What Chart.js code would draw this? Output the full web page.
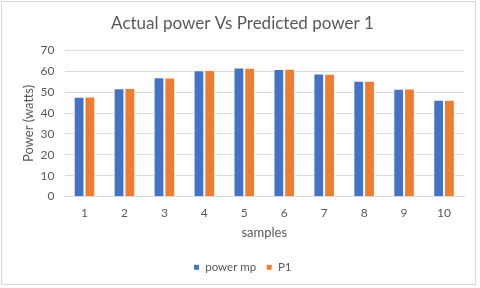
<!DOCTYPE html>
<html>
<head>
<meta charset="utf-8">
<script src="https://cdn.jsdelivr.net/npm/chart.js@4/dist/chart.umd.min.js"></script>
<style>
  html, body { margin: 0; padding: 0; background: #fff; }
  #wrap { position: relative; width: 480px; height: 288px; }
  #frame { position: absolute; left: 1px; top: 1px; width: 473px; height: 282px; border: 1px solid #d9d9d9; pointer-events: none; }
</style>
</head>
<body>
<div id="wrap"><canvas id="chart" width="480" height="288"></canvas><div id="frame"></div></div>
<script>
// chart data
const samples = ['1', '2', '3', '4', '5', '6', '7', '8', '9', '10'];
const powerMp = [47.8, 51.9, 57.1, 60.5, 61.8, 61.1, 58.9, 55.4, 51.6, 46.3];
const p1 = [47.9, 52.0, 57.0, 60.6, 61.7, 61.2, 58.8, 55.5, 51.7, 46.4];
const yTicks = [0, 10, 20, 30, 40, 50, 60, 70];

const grey = '#595959';
const font = "Lato, 'Open Sans', sans-serif";

new Chart(document.getElementById('chart'), {
    type: 'bar',
    data: {
        labels: samples,
        datasets: [
            { label: 'power mp', data: powerMp, backgroundColor: '#4472c4', borderColor: '#ffffff', borderWidth: 1 },
            { label: 'P1', data: p1, backgroundColor: '#ed7d31', borderColor: '#ffffff', borderWidth: 1 }
        ]
    },
    options: {
        responsive: false,
        animation: false,
        layout: { padding: { left: 21, right: 16, top: 7, bottom: 5 } },
        datasets: { bar: { categoryPercentage: 0.54, barPercentage: 1 } },
        plugins: {
            title: {
                display: true,
                text: 'Actual power Vs Predicted power 1',
                color: grey,
                font: { family: font, size: 17, weight: 'normal' },
                padding: { top: 6, bottom: 17 }
            },
            legend: {
                position: 'bottom',
                labels: {
                    color: grey,
                    font: { family: font, size: 11.5 },
                    boxWidth: 6, boxHeight: 6,
                    padding: 10
                }
            },
            tooltip: { enabled: false }
        },
        scales: {
            x: {
                grid: { display: false },
                border: { color: '#d9d9d9' },
                ticks: { color: grey, font: { family: font, size: 12 }, padding: 1 },
                title: { display: true, text: 'samples', color: grey, font: { family: font, size: 13 }, padding: { top: 4, bottom: 11 } }
            },
            y: {
                min: 0, max: 70,
                afterBuildTicks: (axis) => { axis.ticks = yTicks.map(v => ({ value: v })); },
                grid: { color: '#d9d9d9', drawTicks: false },
                border: { display: false },
                ticks: { color: grey, font: { family: font, size: 12 }, padding: 10 },
                title: { display: true, text: 'Power (watts)', color: grey, font: { family: font, size: 13 }, padding: { top: 0, bottom: -6 } }
            }
        }
    }
});
</script>
</body>
</html>
